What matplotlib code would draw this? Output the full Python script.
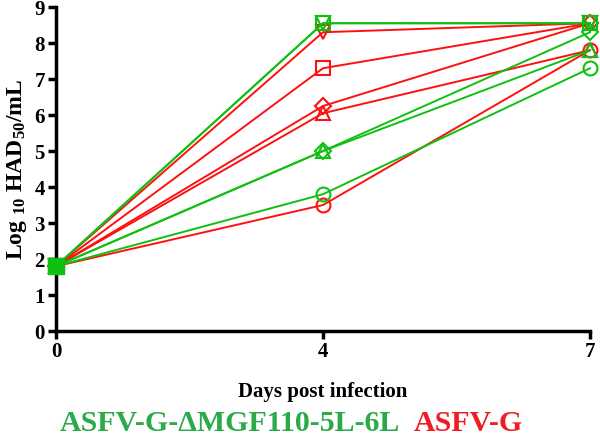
import matplotlib
matplotlib.use("Agg")
import matplotlib.pyplot as plt

plt.rcParams['font.family'] = 'Liberation Serif'
plt.rcParams['font.weight'] = 'bold'
plt.rcParams['mathtext.fontset'] = 'custom'
plt.rcParams['mathtext.rm'] = 'Liberation Serif:bold'
plt.rcParams['mathtext.it'] = 'Liberation Serif:bold'
plt.rcParams['mathtext.bf'] = 'Liberation Serif:bold'

days = ["0", "4", "7"]
marker_types = ['s', 'v', 'D', '^', 'o']

# ASFV-G-dMGF110-5L-6L (green)
mut_square = [1.8, 8.55, 8.55]
mut_down = [1.8, 8.55, 8.55]
mut_diamond = [1.8, 5.0, 8.3]
mut_triangle = [1.8, 5.0, 7.8]
mut_circle = [1.8, 3.8, 7.3]

# ASFV-G (red)
wt_square = [1.8, 7.3, 8.55]
wt_down = [1.8, 8.3, 8.55]
wt_diamond = [1.8, 6.25, 8.55]
wt_triangle = [1.8, 6.05, 7.8]
wt_circle = [1.8, 3.5, 7.8]

green = '#10c010'
red = '#ff1010'

fig = plt.figure(figsize=(6, 4.4), dpi=100)
ax = fig.add_axes([0.0933, 0.2477, 0.89, 0.7363])
x = range(len(days))

wt = [wt_square, wt_down, wt_diamond, wt_triangle, wt_circle]
mut = [mut_square, mut_down, mut_diamond, mut_triangle, mut_circle]
for vals, m in zip(wt, marker_types):
    ms = 8.5 if m == 'D' else 10
    ax.plot(x, vals, color=red, marker=m, ms=ms, mfc='none', mew=1.5, lw=1.4, clip_on=False)
for vals, m in zip(mut, marker_types):
    ms = 8.5 if m == 'D' else 10
    ax.plot(x, vals, color=green, marker=m, ms=ms, mfc='none', mew=1.5, lw=1.4, clip_on=False)
# filled start point
ax.plot([0], [mut_square[0]], color=green, marker='s', ms=12, clip_on=False, zorder=5)

ax.set_xlim(0, 2)
ax.set_ylim(0, 9)
ax.set_xticks(list(x))
ax.set_xticklabels(days)
ax.set_yticks(range(10))
for s in ['top', 'right']:
    ax.spines[s].set_visible(False)
for s in ['left', 'bottom']:
    ax.spines[s].set_linewidth(2.5)
ax.tick_params(width=2.5, length=6, labelsize=15, pad=2)
ax.set_ylabel(r'Log $_{10}$ HAD$_{50}$/mL', fontsize=17, fontweight='bold', labelpad=4)
ax.set_xlabel('Days post infection', fontsize=15, fontweight='bold', labelpad=14)

fig.text(0.1, 0.02, 'ASFV-G-\u0394MGF110-5L-6L', color='#2aaa48', fontsize=21.5, fontweight='bold')
fig.text(0.69, 0.02, 'ASFV-G', color='#f01c24', fontsize=21.5, fontweight='bold')

fig.savefig('out.png', dpi=100)
